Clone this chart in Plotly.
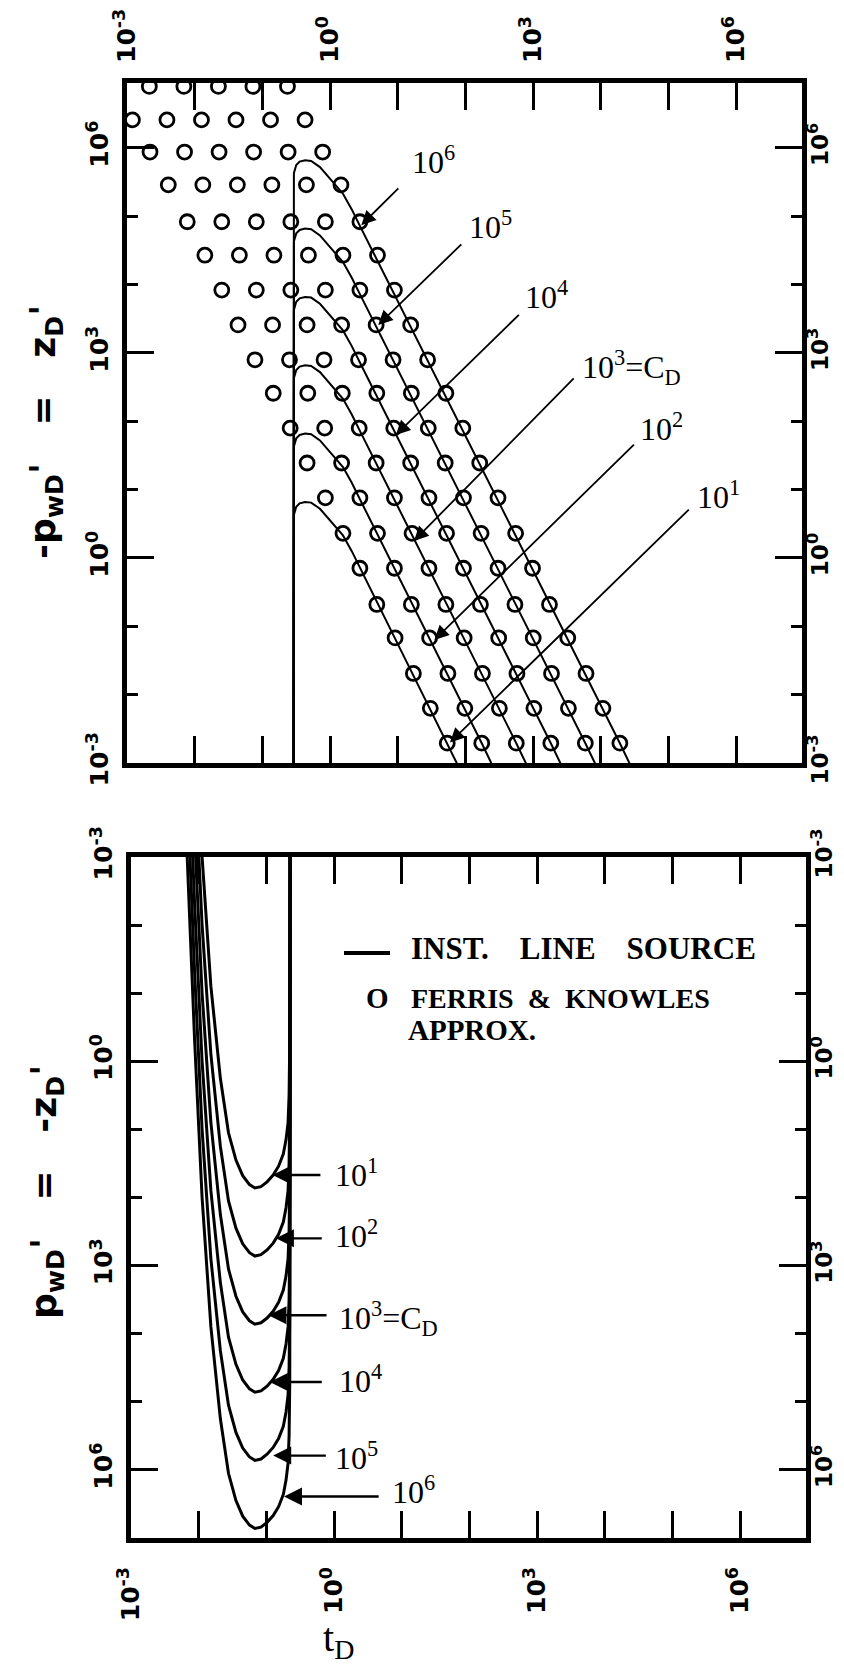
import plotly.graph_objects as go

W, H = 844, 1664

# ---------------- data (log10 values) ----------------
CD_EXP = [1, 2, 3, 4, 5, 6]
CD_TOP_LABELS = ["10<sup>1</sup>", "10<sup>2</sup>", "10<sup>3</sup>=C<sub>D</sub>",
                 "10<sup>4</sup>", "10<sup>5</sup>", "10<sup>6</sup>"]

TICK_VALS = [1e-3, 1e0, 1e3, 1e6]
TICK_TEXT = ["10<sup>-3</sup>", "10<sup>0</sup>", "10<sup>3</sup>", "10<sup>6</sup>"]
MINOR_VALS = [1e-2, 1e-1, 1e1, 1e2, 1e4, 1e5]

# Ferris & Knowles approximation (circles), upper panel: log10(-p'wD) rows
FK_ROWS = [6.90, 6.41, 5.94, 5.46, 4.92, 4.43, 3.92, 3.41, 2.90, 2.41,
           1.90, 1.39, 0.88, 0.36, -0.15, -0.68, -1.17, -1.69, -2.20, -2.71]
FK_T_1 = [-2.92, -2.66, -2.39, -2.11, -1.85, -1.60, -1.36, -1.11, -0.84, -0.59,
          -0.34, -0.07, 0.19, 0.44, 0.69, 0.96, 1.23, 1.48, 1.73]
FK_P_1 = FK_ROWS[1:]
FK_T_2 = [-2.67, -2.41, -2.15, -1.88, -1.60, -1.34, -1.09, -0.85, -0.60, -0.33,
          -0.08, 0.17, 0.44, 0.70, 0.95, 1.20, 1.47, 1.74, 1.99, 2.24]
FK_T_3 = [-2.16, -1.90, -1.64, -1.37, -1.09, -0.83, -0.58, -0.34, -0.09, 0.18,
          0.43, 0.68, 0.95, 1.21, 1.46, 1.71, 1.98, 2.25, 2.50, 2.75]
FK_T_4 = [-1.65, -1.39, -1.13, -0.86, -0.58, -0.32, -0.07, 0.17, 0.42, 0.69,
          0.94, 1.19, 1.46, 1.72, 1.97, 2.22, 2.49, 2.76, 3.01, 3.26]
FK_T_5 = [-1.14, -0.88, -0.62, -0.35, -0.07, 0.19, 0.44, 0.68, 0.93, 1.20,
          1.45, 1.70, 1.97, 2.23, 2.48, 2.73, 3.00, 3.27, 3.52, 3.77]
FK_T_6 = [-0.63, -0.37, -0.11, 0.16, 0.44, 0.70, 0.95, 1.19, 1.44, 1.71,
          1.96, 2.21, 2.48, 2.74, 2.99, 3.24, 3.51, 3.78, 4.03, 4.28]

# Instantaneous line source, upper panel (-p'wD > 0)
TOP_T_1 = [-0.54, -0.54, -0.535, -0.50, -0.45, -0.37, -0.28, -0.15, 0.00, 0.19, 0.32, 0.44, 1.73, 1.88]
TOP_T_2 = [-0.54, -0.54, -0.535, -0.50, -0.45, -0.37, -0.28, -0.15, 0.00, 0.19, 0.32, 0.44, 2.24, 2.39]
TOP_T_3 = [-0.54, -0.54, -0.535, -0.50, -0.45, -0.37, -0.28, -0.15, 0.00, 0.19, 0.32, 0.44, 2.75, 2.90]
TOP_T_4 = [-0.54, -0.54, -0.535, -0.50, -0.45, -0.37, -0.28, -0.15, 0.00, 0.19, 0.32, 0.44, 3.26, 3.41]
TOP_T_5 = [-0.54, -0.54, -0.535, -0.50, -0.45, -0.37, -0.28, -0.15, 0.00, 0.19, 0.32, 0.44, 3.77, 3.92]
TOP_T_6 = [-0.54, -0.54, -0.535, -0.50, -0.45, -0.37, -0.28, -0.15, 0.00, 0.19, 0.32, 0.44, 4.28, 4.43]
TOP_P_1 = [-3.5, 0.40, 0.63, 0.75, 0.80, 0.82, 0.81, 0.72, 0.55, 0.33, 0.10, -0.14, -2.71, -3.02]
TOP_P_2 = [-3.5, 1.40, 1.63, 1.75, 1.80, 1.82, 1.81, 1.72, 1.55, 1.33, 1.10, 0.86, -2.71, -3.02]
TOP_P_3 = [-3.5, 2.40, 2.63, 2.75, 2.80, 2.82, 2.81, 2.72, 2.55, 2.33, 2.10, 1.86, -2.71, -3.02]
TOP_P_4 = [-3.5, 3.40, 3.63, 3.75, 3.80, 3.82, 3.81, 3.72, 3.55, 3.33, 3.10, 2.86, -2.71, -3.02]
TOP_P_5 = [-3.5, 4.40, 4.63, 4.75, 4.80, 4.82, 4.81, 4.72, 4.55, 4.33, 4.10, 3.86, -2.71, -3.02]
TOP_P_6 = [-3.5, 5.40, 5.63, 5.75, 5.80, 5.82, 5.81, 5.72, 5.55, 5.33, 5.10, 4.86, -2.71, -3.02]

# Instantaneous line source, lower panel (p'wD > 0)
BOT_T = [-2.17, -2.06, -1.95, -1.82, -1.68, -1.56, -1.45, -1.35, -1.25, -1.17, -1.08,
         -0.99, -0.90, -0.82, -0.75, -0.71, -0.68, -0.665, -0.655, -0.65, -0.645]
BOT_P_1 = [-8.0, -5.3, -3.0, -1.1, 0.25, 1.05, 1.45, 1.68, 1.81, 1.86, 1.84,
           1.77, 1.67, 1.54, 1.36, 1.15, 0.90, 0.50, -0.30, -3.50, -9.0]
BOT_P_2 = [-7.0, -4.3, -2.0, -0.1, 1.25, 2.05, 2.45, 2.68, 2.81, 2.86, 2.84,
           2.77, 2.67, 2.54, 2.36, 2.15, 1.90, 1.50, 0.70, -2.50, -8.0]
BOT_P_3 = [-6.0, -3.3, -1.0, 0.9, 2.25, 3.05, 3.45, 3.68, 3.81, 3.86, 3.84,
           3.77, 3.67, 3.54, 3.36, 3.15, 2.90, 2.50, 1.70, -1.50, -7.0]
BOT_P_4 = [-5.0, -2.3, 0.0, 1.9, 3.25, 4.05, 4.45, 4.68, 4.81, 4.86, 4.84,
           4.77, 4.67, 4.54, 4.36, 4.15, 3.90, 3.50, 2.70, -0.50, -6.0]
BOT_P_5 = [-4.0, -1.3, 1.0, 2.9, 4.25, 5.05, 5.45, 5.68, 5.81, 5.86, 5.84,
           5.77, 5.67, 5.54, 5.36, 5.15, 4.90, 4.50, 3.70, 0.50, -5.0]
BOT_P_6 = [-3.0, -0.3, 2.0, 3.9, 5.25, 6.05, 6.45, 6.68, 6.81, 6.86, 6.84,
           6.77, 6.67, 6.54, 6.36, 6.15, 5.90, 5.50, 4.70, 1.50, -4.0]

FK_T = [FK_T_1, FK_T_2, FK_T_3, FK_T_4, FK_T_5, FK_T_6]
FK_P = [FK_P_1, FK_ROWS, FK_ROWS, FK_ROWS, FK_ROWS, FK_ROWS]
TOP_T = [TOP_T_1, TOP_T_2, TOP_T_3, TOP_T_4, TOP_T_5, TOP_T_6]
TOP_P = [TOP_P_1, TOP_P_2, TOP_P_3, TOP_P_4, TOP_P_5, TOP_P_6]
BOT_P = [BOT_P_1, BOT_P_2, BOT_P_3, BOT_P_4, BOT_P_5, BOT_P_6]


def pw(v):
    return [10 ** a for a in v]


def px(x):
    return x / W


def py(y):
    return 1 - y / H


fig = go.Figure()

for t, p in zip(TOP_T, TOP_P):
    fig.add_trace(go.Scatter(x=pw(t), y=pw(p), mode="lines", xaxis="x", yaxis="y",
                             line=dict(color="black", width=2), showlegend=False,
                             hoverinfo="skip"))
for t, p in zip(FK_T, FK_P):
    fig.add_trace(go.Scatter(x=pw(t), y=pw(p), mode="markers", xaxis="x", yaxis="y",
                             marker=dict(symbol="circle-open", size=14, color="black",
                                         line=dict(width=2.8, color="black")),
                             showlegend=False, hoverinfo="skip"))
for p in BOT_P:
    fig.add_trace(go.Scatter(x=pw(BOT_T), y=pw(p), mode="lines", xaxis="x2", yaxis="y2",
                             line=dict(color="black", width=3), showlegend=False,
                             hoverinfo="skip"))
# empty traces so the right-hand label axes exist
fig.add_trace(go.Scatter(x=[], y=[], xaxis="x", yaxis="y3", showlegend=False))
fig.add_trace(go.Scatter(x=[], y=[], xaxis="x2", yaxis="y4", showlegend=False))

tickfont = dict(family="DejaVu Sans", size=25, color="black", weight="bold")
rightfont = dict(family="DejaVu Sans", size=23, color="black", weight="bold")

common = dict(type="log", showgrid=False, zeroline=False, showline=True, linewidth=5,
              linecolor="black", mirror="allticks", ticks="inside", ticklen=27,
              tickwidth=3, tickcolor="black", tickvals=TICK_VALS, ticktext=TICK_TEXT,
              tickangle=-90, tickfont=tickfont, automargin=False,
              minor=dict(ticks="inside", ticklen=11, tickwidth=3, tickcolor="black",
                         tickvals=MINOR_VALS, showgrid=False))
label_only = dict(type="log", showgrid=False, zeroline=False, showline=False, ticks="",
                  tickvals=TICK_VALS, ticktext=TICK_TEXT, tickangle=-90, tickfont=rightfont,
                  automargin=False, ticklabelstandoff=2)

fig.update_layout(
    width=W, height=H, margin=dict(l=0, r=0, t=0, b=0, autoexpand=False),
    paper_bgcolor="white", plot_bgcolor="white", showlegend=False,
    xaxis=dict(domain=[px(127), px(802)], range=[-3, 6.97], side="top", anchor="y",
               ticklabelstandoff=10, **common),
    yaxis=dict(domain=[py(763), py(83)], range=[-3, 6.95], anchor="x",
               ticklabelstandoff=4, **common),
    yaxis3=dict(overlaying="y", side="right", anchor="x", range=[-3, 6.95], **label_only),
    xaxis2=dict(domain=[px(131), px(806)], range=[-3, 6.97], side="bottom", anchor="y2",
                ticklabelstandoff=14, **common),
    yaxis2=dict(domain=[py(1538), py(857)], range=[7, -3], anchor="x2",
                ticklabelstandoff=4, **common),
    yaxis4=dict(overlaying="y2", side="right", anchor="x2", range=[7, -3], **label_only),
)

ann = []
serif = dict(family="Liberation Serif", size=32, color="black")

# upper panel curve labels and arrows
TOP_LABEL_POS = [(5.39, 0.92), (4.55, 1.92), (3.69, 2.78), (2.85, 3.85), (2.02, 4.87), (1.18, 5.82)]
TOP_ARROWS = [((1.77, -2.70), (5.32, 0.73)), ((1.54, -1.20), (4.51, 1.68)),
              ((1.24, 0.25), (3.62, 2.65)), ((0.97, 1.80), (2.81, 3.58)),
              ((0.71, 3.41), (1.96, 4.61)), ((0.46, 4.87), (1.03, 5.43))]
for lab, (lx, ly), (tip, tail) in zip(CD_TOP_LABELS, TOP_LABEL_POS, TOP_ARROWS):
    ann.append(dict(text=lab, x=lx, y=ly, xref="x", yref="y", xanchor="left",
                    yanchor="middle", showarrow=False, font=serif))
    ann.append(dict(text="", x=tip[0], y=tip[1], ax=tail[0], ay=tail[1], xref="x", yref="y",
                    axref="x", ayref="y", showarrow=True, arrowhead=2, arrowsize=1.6,
                    arrowwidth=1.8, arrowcolor="black", standoff=0))

# lower panel labels and arrows
BOT_LABELS = ["10<sup>1</sup>", "10<sup>2</sup>", "10<sup>3</sup>=C<sub>D</sub>",
              "10<sup>4</sup>", "10<sup>5</sup>", "10<sup>6</sup>"]
BOT_LABEL_POS = [(-0.01, 1.64), (-0.01, 2.53), (0.04, 3.77), (0.04, 4.67), (-0.01, 5.80), (0.83, 6.30)]
BOT_ARROWS = [((-0.91, 1.67), (-0.18, 1.67)), ((-0.86, 2.60), (-0.16, 2.60)),
              ((-0.97, 3.73), (-0.09, 3.73)), ((-0.95, 4.71), (-0.16, 4.71)),
              ((-0.90, 5.79), (-0.10, 5.79)), ((-0.74, 6.39), (0.68, 6.39))]
for lab, (lx, ly), (tip, tail) in zip(BOT_LABELS, BOT_LABEL_POS, BOT_ARROWS):
    ann.append(dict(text=lab, x=lx, y=ly, xref="x2", yref="y2", xanchor="left",
                    yanchor="middle", showarrow=False, font=serif))
    ann.append(dict(text="", x=tip[0], y=tip[1], ax=tail[0], ay=tail[1], xref="x2", yref="y2",
                    axref="x2", ayref="y2", showarrow=True, arrowhead=2, arrowsize=1.5,
                    arrowwidth=2.4, arrowcolor="black", standoff=0))

# axis titles
titlefont = dict(family="DejaVu Sans", size=36, color="black", weight="bold")
nb = "\u00a0"
ann.append(dict(text="-p<sub>wD</sub>'" + nb * 3 + "=" + nb * 3 + "z<sub>D</sub>'",
                x=px(46), y=py(432), xref="paper", yref="paper", textangle=-90,
                showarrow=False, font=titlefont, xanchor="center", yanchor="middle"))
ann.append(dict(text="p<sub>wD</sub>'" + nb * 3 + "=" + nb * 3 + "-z<sub>D</sub>'",
                x=px(46), y=py(1192), xref="paper", yref="paper", textangle=-90,
                showarrow=False, font=titlefont, xanchor="center", yanchor="middle"))
ann.append(dict(text="t<sub>D</sub>", x=px(338), y=py(1640), xref="paper", yref="paper",
                showarrow=False, font=dict(family="Liberation Serif", size=40, color="black"),
                xanchor="center", yanchor="middle"))

# legend block
legfont = dict(family="Liberation Serif", size=29, color="black", weight="bold")
ann.append(dict(text="INST." + nb * 4 + "LINE" + nb * 4 + "SOURCE",
                x=px(409), y=py(948), xref="paper", yref="paper", xanchor="left",
                yanchor="middle", showarrow=False,
                font=dict(family="Liberation Serif", size=31, color="black", weight="bold")))
ann.append(dict(text="O", x=px(364), y=py(998), xref="paper", yref="paper", xanchor="left",
                yanchor="middle", showarrow=False, font=legfont))
ann.append(dict(text="FERRIS" + nb * 2 + "&amp;" + nb * 2 + "KNOWLES", x=px(409), y=py(998),
                xref="paper", yref="paper", xanchor="left", yanchor="middle",
                showarrow=False, font=dict(family="Liberation Serif", size=28, color="black",
                                           weight="bold")))
ann.append(dict(text="APPROX.", x=px(406), y=py(1030), xref="paper", yref="paper",
                xanchor="left", yanchor="middle", showarrow=False, font=legfont))

fig.update_layout(annotations=ann,
                  shapes=[dict(type="line", xref="paper", yref="paper", x0=px(344), x1=px(390),
                               y0=py(953), y1=py(953), line=dict(color="black", width=4))])

fig.write_html("out.html")
